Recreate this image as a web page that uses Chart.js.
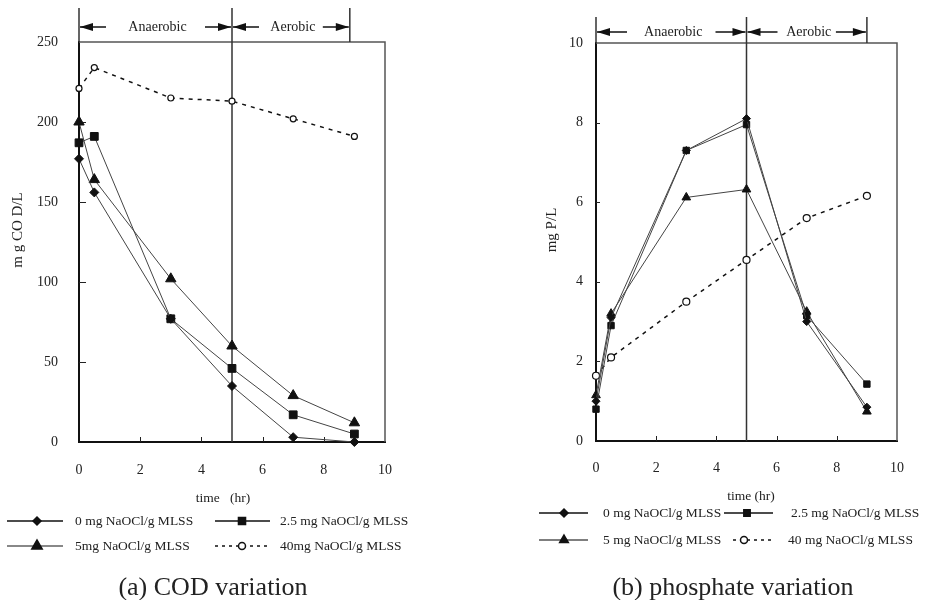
<!DOCTYPE html>
<html>
<head>
<meta charset="utf-8">
<script src="https://cdn.jsdelivr.net/npm/chart.js@4.4.1/dist/chart.umd.min.js"></script>
<style>
  html, body { margin: 0; padding: 0; background: #fff; }
  #wrap { position: relative; width: 932px; height: 600px; }
  canvas { position: absolute; top: 0; }
  #cod { left: 0; }
  #phos { left: 466px; }
</style>
</head>
<body>
<div id="wrap">
  <canvas id="cod" width="466" height="600"></canvas>
  <canvas id="phos" width="466" height="600"></canvas>
</div>
<script>
// sampling times (hr)
const hours = [0, 0.5, 3, 5, 7, 9];

// (a) COD, mg COD/L
const cod0 = [177, 156, 77, 35, 3, 0];
const cod25 = [187, 191, 77, 46, 17, 5];
const cod5 = [200, 164, 102, 60, 29, 12];
const cod40 = [221, 234, 215, 213, 202, 191];

// (b) phosphate, mg P/L
const p0 = [1.0, 3.1, 7.3, 8.1, 3.0, 0.85];
const p25 = [0.8, 2.9, 7.3, 7.95, 3.15, 1.43];
const p5 = [1.15, 3.2, 6.12, 6.32, 3.25, 0.74];
const p40 = [1.64, 2.1, 3.5, 4.55, 5.6, 6.16];

// phase limits (hr)
const phaseNames = ['Anaerobic', 'Aerobic'];
const codPhaseEnds = [0, 5, 8.85];
const pPhaseEnds = [0, 5, 9];

const codLabels = ['0 mg NaOCl/g MLSS', '2.5 mg NaOCl/g MLSS', '5mg NaOCl/g MLSS', '40mg NaOCl/g MLSS'];
const pLabels = ['0 mg NaOCl/g MLSS', '2.5 mg NaOCl/g MLSS', '5 mg NaOCl/g MLSS', '40 mg NaOCl/g MLSS'];

const serif = "'Liberation Serif', 'Times New Roman', serif";
const ink = '#222';

function series(label, values, shape, r, extra) {
  const open = shape === 'circle';
  return Object.assign({
    label: label,
    data: hours.map((h, i) => ({ x: h, y: values[i] })),
    showLine: true,
    clip: false,
    pointStyle: shape,
    pointRadius: r,
    pointHoverRadius: r,
    pointBackgroundColor: open ? '#fff' : '#111',
    pointBorderColor: '#111',
    pointBorderWidth: open ? 1.2 : 1,
    borderColor: open ? '#111' : '#444',
    borderWidth: open ? 1.5 : 1,
    borderDash: open ? [4, 5] : [],
    legendColor: '#111',
    legendWidth: 1.5
  }, extra || {});
}

function arrowHead(ctx, tip, y, dir) {
  ctx.beginPath();
  ctx.moveTo(tip, y);
  ctx.lineTo(tip - dir * 13, y - 4);
  ctx.lineTo(tip - dir * 13, y + 4);
  ctx.closePath();
  ctx.fill();
}

// frame, inner ticks, phase brackets, titles and legend
function decor(cfg) {
  return {
    id: 'decor',
    beforeDatasetsDraw(chart) {
      const ctx = chart.ctx, a = chart.chartArea;
      const xs = chart.scales.x, ys = chart.scales.y;
      ctx.save();
      ctx.strokeStyle = '#555';
      ctx.lineWidth = 1.5;
      ctx.beginPath();
      ctx.moveTo(a.left, a.top);
      ctx.lineTo(a.right, a.top);
      ctx.lineTo(a.right, a.bottom);
      ctx.stroke();

      ctx.strokeStyle = ink;
      ctx.lineWidth = 1;
      ctx.beginPath();
      xs.ticks.forEach(t => {
        if (t.value <= xs.min || t.value >= xs.max) return;
        const px = Math.round(xs.getPixelForValue(t.value)) + 0.5;
        ctx.moveTo(px, a.bottom);
        ctx.lineTo(px, a.bottom - 5);
      });
      ys.ticks.forEach(t => {
        if (t.value <= ys.min || t.value >= ys.max) return;
        const py = Math.round(ys.getPixelForValue(t.value)) + 0.5;
        ctx.moveTo(a.left, py);
        ctx.lineTo(a.left + cfg.yTickLen, py);
      });
      ctx.stroke();

      ctx.strokeStyle = '#333';
      ctx.lineWidth = 1.5;
      ctx.beginPath();
      cfg.phaseEnds.forEach((v, i) => {
        const px = xs.getPixelForValue(v);
        ctx.moveTo(px, cfg.phaseTop);
        ctx.lineTo(px, i === 1 ? a.bottom : a.top);
      });
      ctx.stroke();
      ctx.restore();
    },
    afterDraw(chart) {
      const ctx = chart.ctx, xs = chart.scales.x;
      ctx.save();
      ctx.fillStyle = '#111';
      ctx.strokeStyle = '#111';
      ctx.lineWidth = 1.5;
      ctx.font = '14px ' + serif;
      ctx.textBaseline = 'middle';
      ctx.textAlign = 'center';
      const y = cfg.arrowY;
      for (let i = 0; i < phaseNames.length; i++) {
        const l = xs.getPixelForValue(cfg.phaseEnds[i]) + 1;
        const r = xs.getPixelForValue(cfg.phaseEnds[i + 1]) - 1;
        ctx.beginPath();
        ctx.moveTo(l, y); ctx.lineTo(l + cfg.arm, y);
        ctx.moveTo(r - cfg.arm, y); ctx.lineTo(r, y);
        ctx.stroke();
        arrowHead(ctx, l, y, -1);
        arrowHead(ctx, r, y, 1);
        ctx.fillStyle = ink;
        ctx.fillText(phaseNames[i], (l + r) / 2 + 2, y);
        ctx.fillStyle = '#111';
      }

      // axis titles
      ctx.fillStyle = ink;
      ctx.font = '13.5px ' + serif;
      ctx.fillText(cfg.xTitle, cfg.xTitlePos[0], cfg.xTitlePos[1]);
      ctx.save();
      ctx.font = '15px ' + serif;
      ctx.translate(cfg.yTitlePos[0], cfg.yTitlePos[1]);
      ctx.rotate(-Math.PI / 2);
      ctx.fillText(cfg.yTitle, 0, 0);
      ctx.restore();

      // legend
      ctx.font = '13.5px ' + serif;
      chart.data.datasets.forEach((ds, i) => {
        const col = cfg.legendCols[i];
        const ly = cfg.legendRows[Math.floor(i / 2)];
        ctx.save();
        ctx.strokeStyle = ds.legendColor;
        ctx.lineWidth = ds.legendWidth;
        ctx.setLineDash(ds.borderDash.length ? [3, 4] : []);
        ctx.beginPath();
        ctx.moveTo(col.x0, ly);
        ctx.lineTo(col.x1, ly);
        ctx.stroke();
        ctx.setLineDash([]);
        ctx.fillStyle = ds.pointBackgroundColor;
        ctx.strokeStyle = '#111';
        Chart.helpers.drawPoint(ctx, {
          pointStyle: ds.pointStyle,
          radius: ds.legendRadius,
          borderWidth: 1,
          rotation: 0
        }, col.mx, ly);
        ctx.restore();
        ctx.textAlign = 'left';
        ctx.fillStyle = ink;
        ctx.fillText(ds.label, col.tx, ly);
      });

      ctx.textAlign = 'center';
      ctx.font = '26px ' + serif;
      ctx.fillText(cfg.caption, cfg.captionPos[0], cfg.captionPos[1]);
      ctx.restore();
    }
  };
}

function makeChart(cfg) {
  const a = cfg.area;
  return new Chart(document.getElementById(cfg.id), {
    type: 'scatter',
    data: { datasets: cfg.datasets },
    options: {
      responsive: false,
      animation: false,
      events: [],
      layout: {
        padding: { left: 0, top: a.top, right: 466 - a.right, bottom: 600 - a.bottom - 50 }
      },
      plugins: {
        legend: { display: false },
        tooltip: { enabled: false }
      },
      scales: {
        x: {
          type: 'linear',
          min: 0,
          max: 10,
          grid: { display: false, drawTicks: false },
          border: { display: true, color: '#111', width: 2 },
          ticks: { stepSize: 2, padding: cfg.xTickPad, color: ink, font: { family: serif, size: 14 } },
          afterFit: s => { s.height = 50; }
        },
        y: {
          type: 'linear',
          min: 0,
          max: cfg.yMax,
          grid: { display: false, drawTicks: false },
          border: { display: true, color: '#111', width: 2 },
          ticks: { stepSize: cfg.yStep, padding: cfg.yTickPad, color: ink, font: { family: serif, size: 14 } },
          afterFit: s => { s.width = a.left; }
        }
      }
    },
    plugins: [decor(cfg)]
  });
}

makeChart({
  id: 'cod',
  area: { left: 79, top: 42, right: 385, bottom: 442 },
  yMax: 250, yStep: 50, yTickPad: 21, xTickPad: 20, yTickLen: 7,
  phaseEnds: codPhaseEnds, phaseTop: 8, arrowY: 27, arm: 26,
  xTitle: 'time   (hr)', xTitlePos: [223, 498],
  yTitle: 'm g CO D/L', yTitlePos: [18, 230],
  caption: '(a) COD variation', captionPos: [213, 588],
  legendRows: [521, 546],
  legendCols: [
    { x0: 7, x1: 63, mx: 37, tx: 75 },
    { x0: 215, x1: 270, mx: 242, tx: 280 },
    { x0: 7, x1: 63, mx: 37, tx: 75 },
    { x0: 215, x1: 270, mx: 242, tx: 280 }
  ],
  datasets: [
    series(codLabels[0], cod0, 'rectRot', 4.5, { legendRadius: 4 }),
    series(codLabels[1], cod25, 'rect', 5.5, { legendRadius: 5 }),
    series(codLabels[2], cod5, 'triangle', 6, { legendRadius: 5.5, legendColor: '#888', legendWidth: 2 }),
    series(codLabels[3], cod40, 'circle', 3, { legendRadius: 3.5 })
  ]
});

makeChart({
  id: 'phos',
  area: { left: 130, top: 43, right: 431, bottom: 441 },
  yMax: 10, yStep: 2, yTickPad: 13, xTickPad: 19, yTickLen: 4,
  phaseEnds: pPhaseEnds, phaseTop: 17, arrowY: 32, arm: 30,
  xTitle: 'time (hr)', xTitlePos: [285, 496],
  yTitle: 'mg P/L', yTitlePos: [86, 230],
  caption: '(b) phosphate variation', captionPos: [267, 588],
  legendRows: [513, 540],
  legendCols: [
    { x0: 73, x1: 122, mx: 98, tx: 137 },
    { x0: 258, x1: 307, mx: 281, tx: 325 },
    { x0: 73, x1: 122, mx: 98, tx: 137 },
    { x0: 267, x1: 307, mx: 278, tx: 322 }
  ],
  datasets: [
    series(pLabels[0], p0, 'rectRot', 4, { legendRadius: 4 }),
    series(pLabels[1], p25, 'rect', 4.5, { legendRadius: 4.5 }),
    series(pLabels[2], p5, 'triangle', 5, { legendRadius: 5, legendColor: '#555' }),
    series(pLabels[3], p40, 'circle', 3.5, { legendRadius: 3.5 })
  ]
});
</script>
</body>
</html>
